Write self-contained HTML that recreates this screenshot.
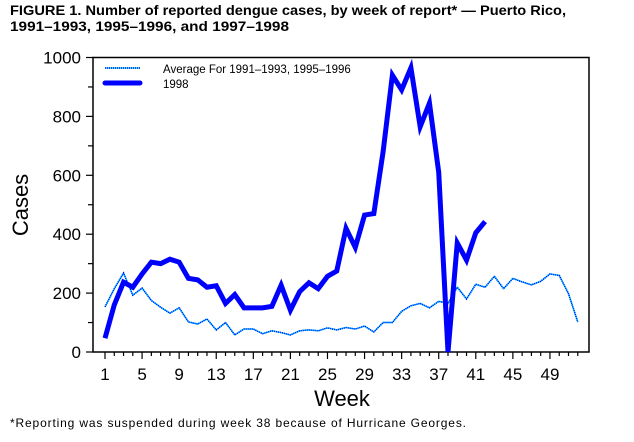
<!DOCTYPE html>
<html><head><meta charset="utf-8"><style>
body{margin:0;background:#fff;width:634px;height:437px;overflow:hidden}
</style></head><body>
<svg width="634" height="437" xmlns="http://www.w3.org/2000/svg" font-family="Liberation Sans, Arial, sans-serif">
<text x="10" y="15" font-size="13.5" font-weight="bold" textLength="556" lengthAdjust="spacingAndGlyphs">FIGURE 1. Number of reported dengue cases, by week of report* — Puerto Rico,</text>
<text x="10" y="31" font-size="13.5" font-weight="bold" textLength="279" lengthAdjust="spacingAndGlyphs">1991–1993, 1995–1996, and 1997–1998</text>
<rect x="93" y="57.5" width="496" height="294.5" fill="none" stroke="#000" stroke-width="1.5"/>
<g stroke="#000" stroke-width="1.2" id="yt"></g>
<g font-size="17" text-anchor="end" id="yl"></g>
<g stroke="#000" stroke-width="1.2" id="xt"></g>
<g font-size="17" text-anchor="middle" id="xl"></g>
<text transform="translate(28,205) rotate(-90)" font-size="22" text-anchor="middle">Cases</text>
<text x="342" y="406" font-size="22" text-anchor="middle">Week</text>
<text x="10" y="427" font-size="12" textLength="456" lengthAdjust="spacing">*Reporting was suspended during week 38 because of Hurricane Georges.</text>
<line x1="105" y1="68" x2="140" y2="68" stroke="#00e0ff" stroke-width="1.5"/>
<line x1="105" y1="68" x2="140" y2="68" stroke="#0000ff" stroke-width="1.5" stroke-dasharray="1 1"/>
<line x1="105" y1="83" x2="140" y2="83" stroke="#0000ff" stroke-width="5" stroke-linecap="round"/>
<text x="163" y="73" font-size="11.5">Average For 1991–1993, 1995–1996</text>
<text x="163" y="88" font-size="11.5">1998</text>
<polyline id="avg1" fill="none" stroke="#00e0ff" stroke-width="1.5"/>
<polyline id="avg2" fill="none" stroke="#0000ff" stroke-width="1.5" stroke-dasharray="1 1"/>
<polyline id="y98" fill="none" stroke="#0000ff" stroke-width="5" stroke-linejoin="miter"/>
</svg>
<script>
var NS="http://www.w3.org/2000/svg";
function X(w){return 105+(w-1)*9.27}
function Y(v){return 352-v*0.2945}
function el(p,t,a,txt){var e=document.createElementNS(NS,t);for(var k in a)e.setAttribute(k,a[k]);if(txt!=null)e.textContent=txt;document.getElementById(p).appendChild(e);}
for(var v=0;v<=1000;v+=100){el("yt","line",{x1:v%200?88:86,x2:93,y1:Y(v),y2:Y(v)});if(v%200==0)el("yl","text",{x:81,y:Y(v)+6},v);}
for(var w=1;w<=52;w++){var maj=(w-1)%4==0;el("xt","line",{x1:X(w),x2:X(w),y1:352,y2:maj?359:356});if(maj)el("xl","text",{x:X(w),y:380},w);}
var avg=[153,215,268,193,217,175,152,132,150,102,95,112,75,100,58,78,78,62,72,66,58,72,75,72,82,75,83,78,88,68,100,100,138,157,165,150,172,165,220,180,230,220,257,215,250,238,228,240,265,260,198,102];
var y98=[47,160,237,220,265,305,300,315,305,250,245,220,225,165,195,150,150,150,155,227,142,205,235,215,257,275,420,355,465,470,680,940,890,965,765,845,610,0,370,312,405,443];
function pts(a){return a.map(function(v,i){return X(i+1)+","+Y(v)}).join(" ")}
document.getElementById("avg1").setAttribute("points",pts(avg));
document.getElementById("avg2").setAttribute("points",pts(avg));
document.getElementById("y98").setAttribute("points",pts(y98));
</script>
</body></html>
